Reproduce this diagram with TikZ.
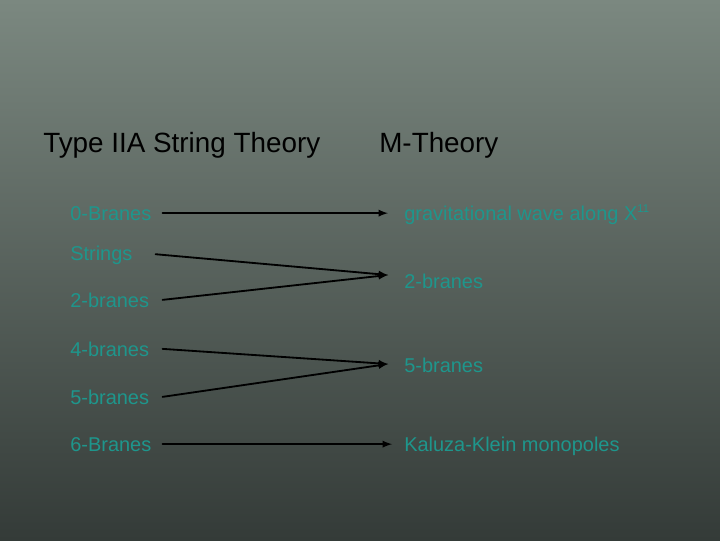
\documentclass[tikz,border=0pt]{standalone}
\usepackage{fontspec}
\setmainfont{Liberation Sans}
\definecolor{bgtop}{RGB}{123,136,128}
\definecolor{bgbot}{RGB}{52,59,56}
\definecolor{brane}{RGB}{30,150,140}

\begin{document}
\begin{tikzpicture}[x=0.025cm, y=-0.025cm, line cap=round, line join=round, >=latex,
    every edge/.append style={->, line width=1.3pt, black},
    head/.style={anchor=base west, inner sep=0pt, text=black, font=\fontsize{19.8}{24}\selectfont},
    item/.style={anchor=base west, inner sep=0pt, text=brane, font=\fontsize{14.2}{17}\selectfont},
    src/.style={item, text width=2.3cm}] % px coordinates

  \shade[top color=bgtop, bottom color=bgbot] (0,0) rectangle (720,540);

  \node[head] (iia) at (43,152) {Type IIA String Theory};
  \node[head] (mth) at (379,152) {M-Theory};

  \node[src] (b0) at (70,220) {0-Branes};
  \node[src] (str) at (70,260) {Strings};
  \node[src] (b2) at (70,307) {2-branes};
  \node[src] (b4) at (70,356) {4-branes};
  \node[src] (b5) at (70,404) {5-branes};
  \node[src] (b6) at (70,451) {6-Branes};

  \node[item] (m0) at (404,220) {gravitational wave along X\raisebox{0.75ex}{\fontsize{8}{9}\selectfont 11}};
  \node[item] (m2) at (404,288) {2-branes};
  \node[item] (m5) at (404,372) {5-branes};
  \node[item] (m6) at (404,451) {Kaluza-Klein monopoles};

  \coordinate (j2) at (388,275);
  \coordinate (j5) at (388,364);

  \path (b0.east) edge[shorten >=11.4pt] (b0.east -| m0.west)
  (str.east) edge[shorten <=-5pt] (j2)
  (b2.east) edge (j2)
  (b4.east) edge (j5)
  (b5.east) edge (j5)
  (b6.east) edge[shorten >=8.5pt] (b6.east -| m6.west);
\end{tikzpicture}
\end{document}
